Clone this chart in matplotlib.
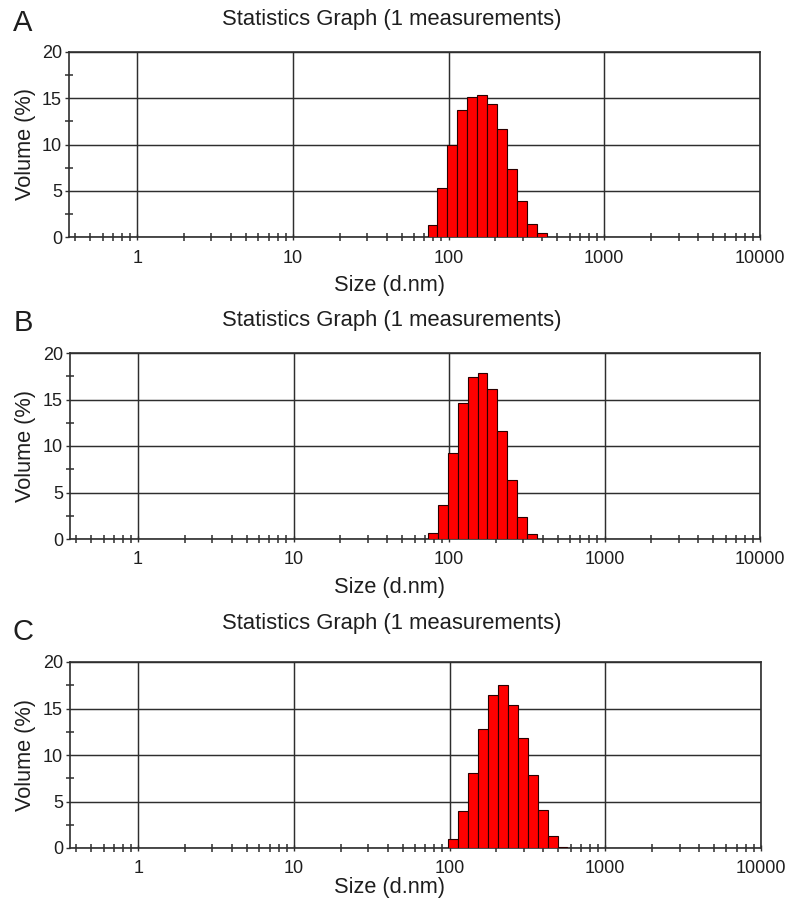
import numpy as np
import matplotlib
matplotlib.use("Agg")
import matplotlib.pyplot as plt
from matplotlib.ticker import LogLocator, NullFormatter, FixedLocator

plt.rcParams['font.family'] = ['Liberation Sans', 'DejaVu Sans']

# Zetasizer size classes (d.nm) and volume distribution (%)
sizes_a = [78.82, 91.28, 105.7, 122.4, 141.8, 164.2, 190.1, 220.2, 255.0, 295.3, 342.0, 396.1]
vol_a = [1.3, 5.3, 10.0, 13.7, 15.1, 15.4, 14.4, 11.7, 7.4, 3.9, 1.4, 0.4]

sizes_b = [78.82, 91.28, 105.7, 122.4, 141.8, 164.2, 190.1, 220.2, 255.0, 295.3, 342.0]
vol_b = [0.6, 3.7, 9.3, 14.6, 17.4, 17.8, 16.1, 11.6, 6.3, 2.4, 0.5]

sizes_c = [105.7, 122.4, 141.8, 164.2, 190.1, 220.2, 255.0, 295.3, 342.0, 396.1, 458.7, 531.2]
vol_c = [1.0, 4.0, 8.1, 12.8, 16.5, 17.5, 15.4, 11.8, 7.8, 4.1, 1.3, 0.1]

panel_labels = ['A', 'B', 'C']
title = 'Statistics Graph (1 measurements)'
xticks = [1, 10, 100, 1000, 10000]
yticks = [0, 5, 10, 15, 20]

# 70 log-spaced classes from 0.4 to 10000 nm
ratio = (10000 / 0.4) ** (1 / 69)

W, H = 800, 916
fig = plt.figure(figsize=(W / 100, H / 100), dpi=100)

# axes boxes in pixels: left, right, top, bottom
boxes = [(69, 760, 52, 237), (70, 760, 353, 539), (70, 761, 662, 848)]
letter_y = [23, 323, 632]
title_y = [28, 329, 632]
xlabel_y = [285, 587, 888]
tick_pad = [7, 6, 6]
data = [(sizes_a, vol_a), (sizes_b, vol_b), (sizes_c, vol_c)]

ink = '#2e2e2e'
txt = '#1e1e1e'
for i, (l, r, t, b) in enumerate(boxes):
    ax = fig.add_axes([l / W, 1 - b / H, (r - l) / W, (b - t) / H])
    s, v = data[i]
    s = np.array(s)
    left = s / np.sqrt(ratio)
    right = s * np.sqrt(ratio)
    ax.bar(left, v, width=right - left, align='edge', color='#ff0000',
           edgecolor='#2a0000', linewidth=0.8, zorder=3)

    ax.set_xscale('log')
    ax.set_xlim(0.365, 10000)
    ax.set_ylim(0, 20)
    ax.xaxis.set_major_locator(FixedLocator(xticks))
    ax.set_xticklabels([str(x) for x in xticks])
    ax.xaxis.set_minor_locator(LogLocator(base=10, subs=np.arange(2, 10)))
    ax.xaxis.set_minor_formatter(NullFormatter())
    ax.set_yticks(yticks)
    ax.set_yticks([2.5, 7.5, 12.5, 17.5], minor=True)

    ax.grid(True, which='major', color=ink, linewidth=1.05, zorder=1)
    ax.set_axisbelow(True)
    for sp in ax.spines.values():
        sp.set_color(ink)
        sp.set_linewidth(1.2)

    ax.tick_params(axis='x', which='major', direction='inout', length=5, width=1.0,
                   color=ink, labelsize=13, labelcolor=txt, pad=tick_pad[i])
    ax.tick_params(axis='x', which='minor', direction='inout', length=6, width=1.1, color=ink)
    ax.tick_params(axis='y', which='major', direction='out', length=3, width=1.0,
                   color=ink, labelsize=13, labelcolor=txt, pad=2)
    ax.tick_params(axis='y', which='minor', direction='inout', length=6, width=1.1, color=ink)

    ax.set_xlabel('Size (d.nm)', fontsize=15.7, color=txt)
    ax.xaxis.set_label_coords((390 - l) / (r - l), -(xlabel_y[i] - b) / (b - t))
    ax.set_ylabel('Volume (%)', fontsize=15.7, color=txt)
    ax.yaxis.set_label_coords(-(l - 26) / (r - l), 0.5)
    ax.xaxis.label.set_va('center')
    ax.yaxis.label.set_va('center')

    ax.set_title(title, x=(392 - l) / (r - l), y=1 + (t - title_y[i]) / (b - t),
                 va='center', fontsize=15.8, color=txt)

    fig.text(23 / W, 1 - letter_y[i] / H, panel_labels[i], ha='center', va='center',
             fontsize=21, color=txt)

fig.savefig('out.png', dpi=100)
